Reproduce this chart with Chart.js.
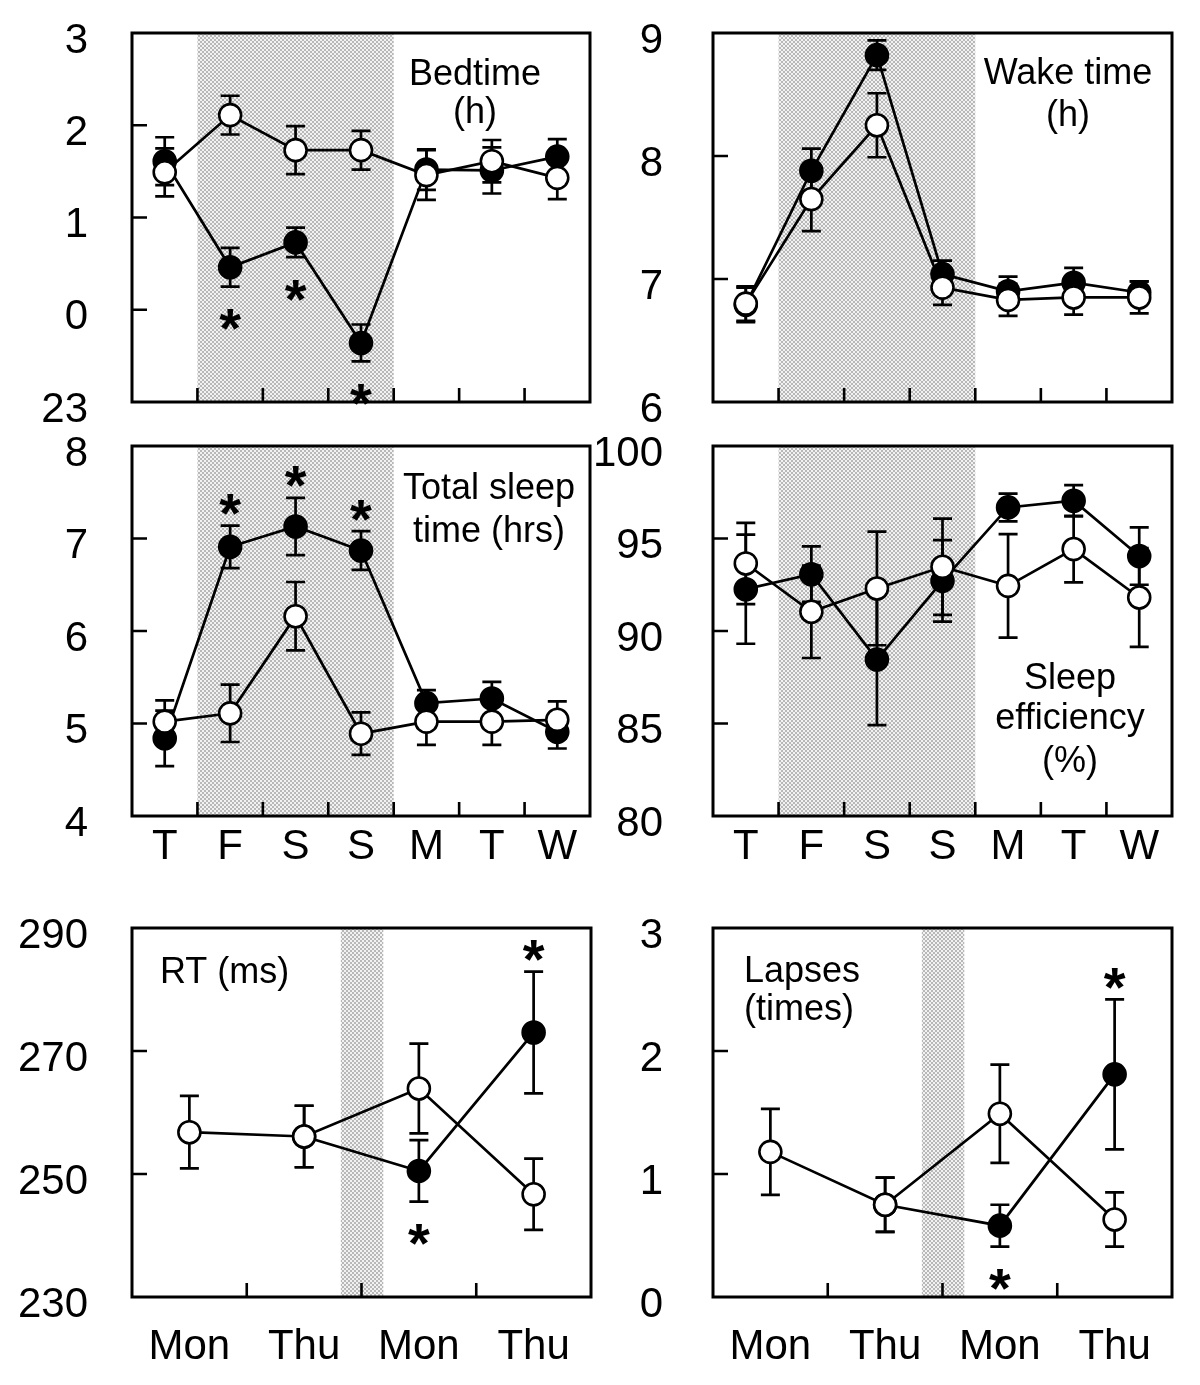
<!DOCTYPE html>
<html>
<head>
<meta charset="utf-8">
<script src="https://cdn.jsdelivr.net/npm/chart.js@4/dist/chart.umd.min.js"></script>
<style>
    html, body { margin: 0; padding: 0; background: #fff; }
    body { position: relative; width: 1200px; height: 1385px; overflow: hidden; }
    canvas { position: absolute; }
</style>
</head>
<body>
<canvas id="bedtime-chart" width="618" height="519" style="left:-8px;top:-27px"></canvas>
<canvas id="waketime-chart" width="619" height="519" style="left:573px;top:-27px"></canvas>
<canvas id="sleeptime-chart" width="618" height="520" style="left:-8px;top:386px"></canvas>
<canvas id="efficiency-chart" width="619" height="520" style="left:573px;top:386px"></canvas>
<canvas id="rt-chart" width="619" height="519" style="left:-8px;top:868px"></canvas>
<canvas id="lapses-chart" width="619" height="519" style="left:573px;top:868px"></canvas>
<script>
// categories
const dayLabels = ["T", "F", "S", "S", "M", "T", "W"];
const weekLabels = ["Mon", "Thu", "Mon", "Thu"];

// bedtime (h), 23 is shown as -1
const bedOpen = [1.49, 2.11, 1.73, 1.73, 1.46, 1.61, 1.43];
const bedOpenErr = [0.26, 0.21, 0.26, 0.21, 0.27, 0.23, 0.23];
const bedFilled = [1.61, 0.46, 0.73, -0.36, 1.52, 1.51, 1.66];
const bedFilledErr = [0.26, 0.21, 0.16, 0.20, 0.22, 0.25, 0.19];
const bedStars = ["", "below", "below", "below", "", "", ""];

// wake time (h)
const wakeOpen = [6.80, 7.65, 8.25, 6.93, 6.83, 6.85, 6.85];
const wakeOpenErr = [0.14, 0.26, 0.26, 0.14, 0.13, 0.14, 0.13];
const wakeFilled = [6.79, 7.88, 8.82, 7.04, 6.90, 6.97, 6.89];
const wakeFilledErr = [0.14, 0.18, 0.12, 0.11, 0.12, 0.12, 0.09];

// total sleep time (hrs)
const tstOpen = [5.02, 5.11, 6.16, 4.89, 5.02, 5.02, 5.04];
const tstOpenErr = [0.23, 0.31, 0.37, 0.23, 0.25, 0.25, 0.20];
const tstFilled = [4.84, 6.91, 7.13, 6.87, 5.22, 5.27, 4.91];
const tstFilledErr = [0.30, 0.23, 0.31, 0.21, 0.14, 0.18, 0.18];
const tstStars = ["", "above", "above", "above", "", "", ""];

// sleep efficiency (%)
const seOpen = [93.65, 91.04, 92.3, 93.47, 92.44, 94.43, 91.81];
const seOpenErr = [2.2, 2.5, 3.07, 2.6, 2.8, 1.8, 2.67];
const seFilled = [92.26, 93.07, 88.46, 92.71, 96.68, 97.04, 94.05];
const seFilledErr = [2.95, 1.5, 3.55, 2.2, 0.75, 0.85, 1.55];

// RT (ms)
const rtOpen = [256.8, 256.1, 263.9, 246.7];
const rtOpenErr = [5.9, 5.0, 7.3, 5.8];
const rtFilled = [null, 256.1, 250.5, 273.0];
const rtFilledErr = [null, 5.0, 5.0, 9.9];
const rtStars = ["", "", "below", "above"];

// lapses (times)
const lapOpen = [1.18, 0.75, 1.49, 0.63];
const lapOpenErr = [0.35, 0.22, 0.40, 0.22];
const lapFilled = [null, 0.75, 0.58, 1.81];
const lapFilledErr = [null, 0.22, 0.17, 0.61];
const lapStars = ["", "", "below", "above"];

// shaded weekend, in category units
const dayShade = [0.5, 3.5];
const weekShade = [1.32, 1.69];

const FONT = "'Liberation Sans', Arial, Helvetica, sans-serif";

function dotPattern(ctx) {
    const c = document.createElement("canvas");
    c.width = 4;
    c.height = 4;
    const g = c.getContext("2d");
    g.fillStyle = "#f2f2f2";
    g.fillRect(0, 0, 4, 4);
    g.fillStyle = "#b8b8b8";
    g.fillRect(0, 0, 2, 2);
    g.fillRect(2, 2, 2, 2);
    return ctx.createPattern(c, "repeat");
}

function decorPlugin(cfg) {
    return {
        id: "panelDecor",
        beforeDatasetsDraw(chart) {
            const { ctx, chartArea: a, scales: { x, y } } = chart;
            ctx.save();
            // weekend shading
            const x0 = x.getPixelForValue(cfg.shade[0]);
            const x1 = x.getPixelForValue(cfg.shade[1]);
            ctx.fillStyle = dotPattern(ctx);
            ctx.fillRect(x0, a.top, x1 - x0, a.bottom - a.top);
            // error bars
            ctx.strokeStyle = "#000";
            ctx.lineWidth = 2.7;
            chart.data.datasets.forEach(function (ds) {
                ds.data.forEach(function (v, i) {
                    const e = ds.errors[i];
                    if (v == null || e == null) return;
                    const px = x.getPixelForValue(i);
                    const top = y.getPixelForValue(v + e);
                    const bot = y.getPixelForValue(v - e);
                    ctx.beginPath();
                    ctx.moveTo(px, top);
                    ctx.lineTo(px, bot);
                    ctx.moveTo(px - 9.5, top);
                    ctx.lineTo(px + 9.5, top);
                    ctx.moveTo(px - 9.5, bot);
                    ctx.lineTo(px + 9.5, bot);
                    ctx.stroke();
                });
            });
            ctx.restore();
        },
        afterDatasetsDraw(chart) {
            const { ctx, chartArea: a, scales: { x, y } } = chart;
            ctx.save();
            ctx.strokeStyle = "#000";
            ctx.lineWidth = 3;
            ctx.strokeRect(a.left, a.top, a.right - a.left, a.bottom - a.top);

            // inward ticks
            ctx.lineWidth = 2.6;
            ctx.beginPath();
            y.ticks.forEach(function (t) {
                if (t.value <= y.min || t.value >= y.max) return;
                const py = y.getPixelForValue(t.value);
                ctx.moveTo(a.left, py);
                ctx.lineTo(a.left + 15, py);
            });
            const n = chart.data.labels.length;
            for (let i = 0; i < n - 1; i++) {
                const px = x.getPixelForValue(i + 0.5);
                ctx.moveTo(px, a.bottom);
                ctx.lineTo(px, a.bottom - 14);
            }
            ctx.stroke();

            // panel title
            ctx.fillStyle = "#000";
            ctx.font = "36px " + FONT;
            ctx.textAlign = cfg.noteAlign;
            ctx.textBaseline = "middle";
            cfg.notes.forEach(function (line, i) {
                ctx.fillText(line, a.left + cfg.noteX, a.top + cfg.noteY[i]);
            });

            // significance marks next to the filled series
            if (cfg.stars) {
                const ds = chart.data.datasets[1];
                ctx.font = "bold 56px " + FONT;
                ctx.textAlign = "center";
                ctx.textBaseline = "alphabetic";
                const m = ctx.measureText("*");
                const shift = (m.actualBoundingBoxAscent - m.actualBoundingBoxDescent) / 2;
                cfg.stars.forEach(function (s, i) {
                    if (!s) return;
                    const v = ds.data[i];
                    const e = ds.errors[i];
                    const px = x.getPixelForValue(i);
                    let cy;
                    if (s === "above") {
                        cy = y.getPixelForValue(v + e) - 21;
                    } else {
                        cy = y.getPixelForValue(v - e) + 33;
                    }
                    ctx.fillText("*", px, cy + shift);
                });
            }
            ctx.restore();
        },
    };
}

function buildPanel(id, cfg) {
    const pointStyle = {
        borderColor: "#000",
        borderWidth: 2.7,
        pointRadius: 11,
        pointBorderColor: "#000",
        pointBorderWidth: 2.6,
        tension: 0,
    };
    const chartData = {
        labels: cfg.labels,
        datasets: [
            Object.assign({ label: "Open", data: cfg.open, errors: cfg.openErr, pointBackgroundColor: "#fff" }, pointStyle),
            Object.assign({ label: "Filled", data: cfg.filled, errors: cfg.filledErr, pointBackgroundColor: "#000" }, pointStyle),
        ],
    };
    const chartOptions = {
        responsive: false,
        animation: false,
        layout: { padding: { top: 60, right: 20, bottom: 0, left: 0 } },
        plugins: {
            legend: { display: false },
            tooltip: { enabled: false },
        },
        scales: {
            x: {
                type: "category",
                offset: true,
                grid: { display: false, drawTicks: false },
                border: { display: false },
                ticks: {
                    display: cfg.showX,
                    color: "#000",
                    font: { family: FONT, size: 42 },
                    padding: cfg.xPad,
                    maxRotation: 0,
                    autoSkip: false,
                },
                afterFit: function (s) { s.height = 90; },
            },
            y: {
                min: cfg.yMin,
                max: cfg.yMax,
                grid: {
                    display: true,
                    drawOnChartArea: false,
                    drawTicks: true,
                    tickLength: cfg.yGap - 10,
                    color: "rgba(0,0,0,0)",
                },
                border: { display: false },
                ticks: {
                    stepSize: cfg.yStep,
                    color: "#000",
                    font: { family: FONT, size: 42 },
                    padding: 10,
                    labelOffset: 8,
                    callback: cfg.yFormat || function (v) { return v; },
                },
                afterFit: function (s) { s.width = 140; },
            },
        },
    };
    return new Chart(document.getElementById(id), {
        type: "line",
        data: chartData,
        options: chartOptions,
        plugins: [decorPlugin(cfg)],
    });
}

document.addEventListener("DOMContentLoaded", function () {
    buildPanel("bedtime-chart", {
        labels: dayLabels, open: bedOpen, openErr: bedOpenErr, filled: bedFilled, filledErr: bedFilledErr,
        stars: bedStars, shade: dayShade, yMin: -1, yMax: 3, yStep: 1, yGap: 44,
        yFormat: function (v) { return v < 0 ? 24 + v : v; },
        showX: false, xPad: 6,
        notes: ["Bedtime", "(h)"], noteAlign: "center", noteX: 343, noteY: [42, 80],
    });

    buildPanel("waketime-chart", {
        labels: dayLabels, open: wakeOpen, openErr: wakeOpenErr, filled: wakeFilled, filledErr: wakeFilledErr,
        stars: null, shade: dayShade, yMin: 6, yMax: 9, yStep: 1, yGap: 50,
        showX: false, xPad: 6,
        notes: ["Wake time", "(h)"], noteAlign: "center", noteX: 355, noteY: [41, 83],
    });

    buildPanel("sleeptime-chart", {
        labels: dayLabels, open: tstOpen, openErr: tstOpenErr, filled: tstFilled, filledErr: tstFilledErr,
        stars: tstStars, shade: dayShade, yMin: 4, yMax: 8, yStep: 1, yGap: 44,
        showX: true, xPad: 6,
        notes: ["Total sleep", "time (hrs)"], noteAlign: "center", noteX: 357, noteY: [43, 86],
    });

    buildPanel("efficiency-chart", {
        labels: dayLabels, open: seOpen, openErr: seOpenErr, filled: seFilled, filledErr: seFilledErr,
        stars: null, shade: dayShade, yMin: 80, yMax: 100, yStep: 5, yGap: 50,
        showX: true, xPad: 6,
        notes: ["Sleep", "efficiency", "(%)"], noteAlign: "center", noteX: 357, noteY: [233, 273, 316],
    });

    buildPanel("rt-chart", {
        labels: weekLabels, open: rtOpen, openErr: rtOpenErr, filled: rtFilled, filledErr: rtFilledErr,
        stars: rtStars, shade: weekShade, yMin: 230, yMax: 290, yStep: 20, yGap: 44,
        showX: true, xPad: 25,
        notes: ["RT (ms)"], noteAlign: "left", noteX: 28, noteY: [45],
    });

    buildPanel("lapses-chart", {
        labels: weekLabels, open: lapOpen, openErr: lapOpenErr, filled: lapFilled, filledErr: lapFilledErr,
        stars: lapStars, shade: weekShade, yMin: 0, yMax: 3, yStep: 1, yGap: 50,
        showX: true, xPad: 25,
        notes: ["Lapses", "(times)"], noteAlign: "left", noteX: 31, noteY: [44, 82],
    });
});
</script>
</body>
</html>
